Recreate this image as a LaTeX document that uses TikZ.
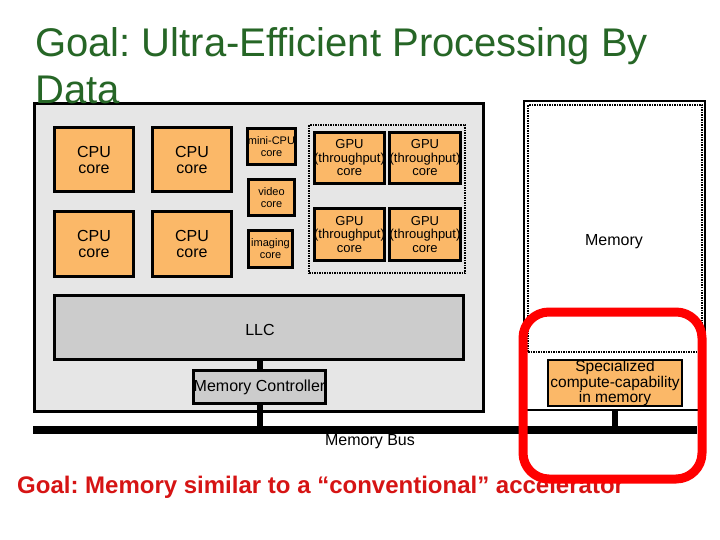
\documentclass[tikz,border=0pt]{standalone}
\usepackage{fontspec}
\setmainfont{Liberation Sans}
\frenchspacing
\definecolor{chipgray}{RGB}{230,230,230}
\definecolor{llcgray}{RGB}{204,204,204}
\definecolor{coreorange}{RGB}{251,184,104}
\definecolor{titlegreen}{RGB}{38,102,38}
\definecolor{goalred}{RGB}{214,20,20}
\begin{document}
\begin{tikzpicture}[x=1pt,y=-1pt,
  boxbase/.style={draw=black, line width=3pt, inner sep=0pt, outer sep=0pt, align=center},
  core/.style={boxbase, fill=coreorange},
  cpucore/.style={core, minimum width=79pt, minimum height=64pt, font=\fontsize{16}{16}\selectfont},
  smallcore/.style={core, minimum width=46pt, minimum height=36pt, font=\fontsize{11}{12}\selectfont},
  gpucore/.style={core, minimum width=64pt, minimum height=51pt, font=\fontsize{13}{13.5}\selectfont},
  graybox/.style={boxbase, fill=llcgray, font=\fontsize{16}{16}\selectfont},
  dotframe/.style={draw=black, line width=2pt, dash pattern=on 1.5pt off 1pt, inner sep=0pt, outer sep=0pt},
  stem/.style={line width=6pt},
  lbl/.style={inner sep=0pt, font=\fontsize{16}{16}\selectfont}
]
\useasboundingbox (0,0) rectangle (720,540);

% chip
\node[boxbase, fill=chipgray, minimum width=449pt, minimum height=308pt] (chip) at (259,257.5) {};

% CPU cores
\node[cpucore] (cpu1) at (94,159.5) {CPU\\core};
\node[cpucore] (cpu2) at (192,159.5) {CPU\\core};
\node[cpucore] (cpu3) at (94,244) {CPU\\core};
\node[cpucore] (cpu4) at (192,244) {CPU\\core};

% small cores
\node[smallcore] (mini) at (271.5,146.5) {mini-CPU\\core};
\node[smallcore] (video) at (271.5,197.5) {video\\core};
\node[smallcore, minimum width=44pt, minimum height=37pt] (imaging) at (270.5,249) {imaging\\core};

% GPU region
\node[dotframe, minimum width=156pt, minimum height=148pt] (gpuframe) at (387,199) {};
\node[gpucore] (gpu1) at (349.5,158) {GPU\\(throughput)\\core};
\node[gpucore, minimum width=63pt] (gpu2) at (425,158) {GPU\\(throughput)\\core};
\node[gpucore, minimum height=52pt] (gpu3) at (349.5,234.5) {GPU\\(throughput)\\core};
\node[gpucore, minimum width=63pt, minimum height=52pt] (gpu4) at (425,234.5) {GPU\\(throughput)\\core};

% LLC and memory controller
\node[graybox, minimum width=409pt, minimum height=64pt] (llc) at (259,327.5) {};
\node[lbl] (llclbl) at (260,330) {LLC};
\node[graybox, minimum width=132pt, minimum height=33pt] (mc) at (259.5,387) {Memory Controller};

% bus
\coordinate (busL) at (33,430);
\coordinate (busR) at (697,430);
\draw[stem] (llc.south -| mc.center) -- (mc.north);
\draw[stem] (mc.south) -- (mc.center |- busL);
\draw[line width=8pt] (busL) -- (busR);
\node[lbl] (buslbl) at (370,442) {Memory Bus};

% memory
\node[draw=black, line width=2.5pt, inner sep=0pt, outer sep=0pt, minimum width=181pt, minimum height=309pt] (mem) at (614.5,255.5) {};
\node[dotframe, minimum width=174pt, minimum height=247pt] (memin) at (615,228.5) {};
\node[lbl] (memlbl) at (614,242) {Memory};
\node[core, line width=2.5pt, minimum width=134pt, minimum height=46pt, font=\fontsize{15.5}{15.5}\selectfont] (spec) at (615,383) {Specialized\\compute-capability\\in memory};
\draw[stem] (spec.center |- mem.south) -- (spec.center |- busL);

% titles
\node[anchor=base west, inner sep=0pt, text=titlegreen, font=\fontsize{40}{40}\selectfont] (t1) at (35,57) {Goal: Ultra-Efficient Processing By};
\node[anchor=base west, inner sep=0pt, text=titlegreen, font=\fontsize{40}{40}\selectfont] (t2) at (35,104) {Data};
\node[anchor=base west, inner sep=0pt, text=goalred, font=\bfseries\fontsize{24}{24}\selectfont] (goal) at (17,493) {Goal: Memory similar to a “conventional” accelerator};

% highlight
\node[draw=red, line width=9pt, rounded corners=26pt, inner sep=0pt, minimum width=179pt, minimum height=167pt] (hl) at (612.5,395.5) {};
\end{tikzpicture}
\end{document}
